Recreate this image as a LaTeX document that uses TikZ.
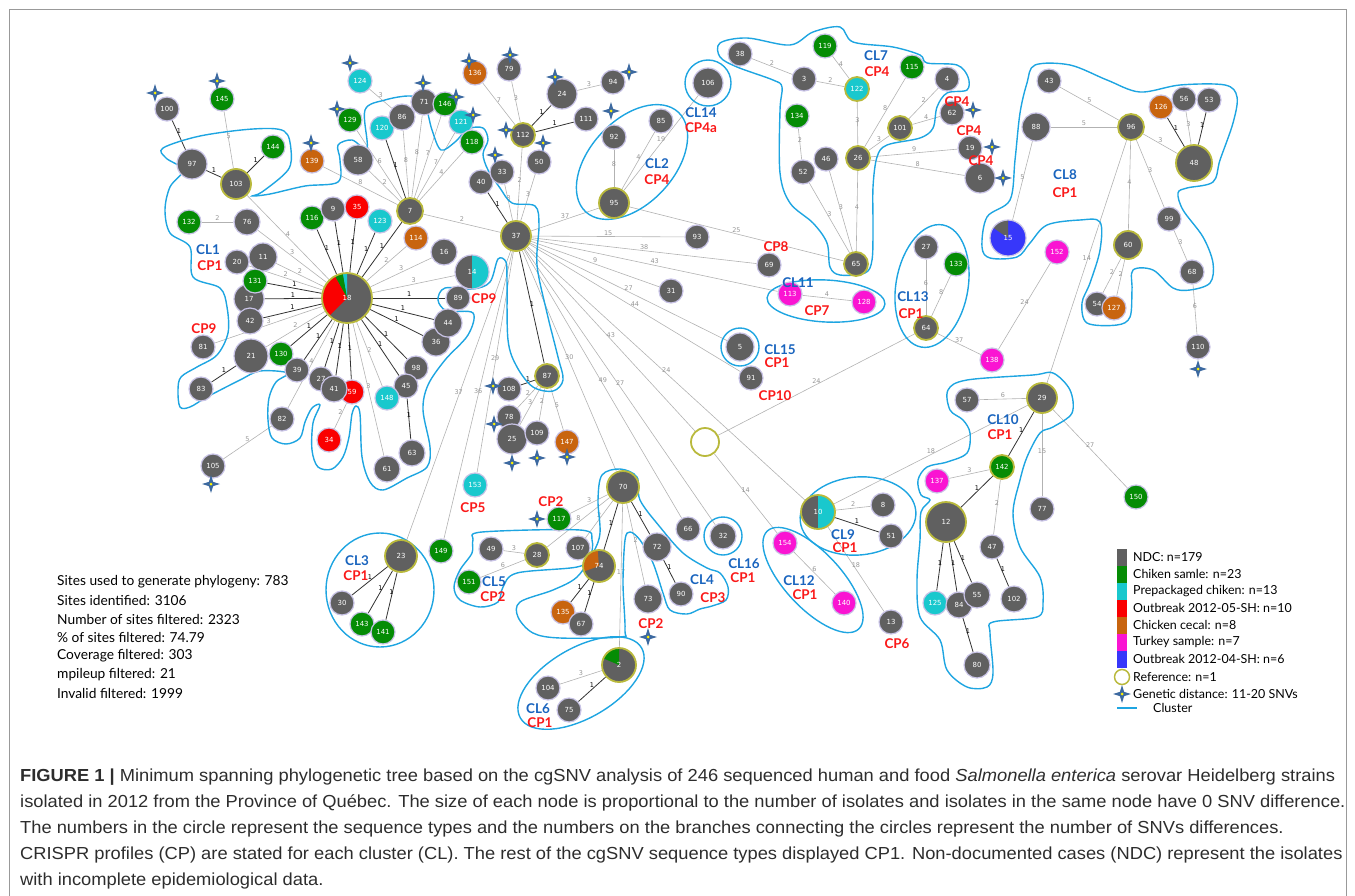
\documentclass[tikz,border=0pt]{standalone}
\usepackage{fontspec}
\setmainfont{Lato}
\newfontfamily\numfont{DejaVu Sans}
\newfontfamily\capfont[FakeStretch=1.05]{Liberation Sans}
\usetikzlibrary{shapes.geometric}
\pgfdeclarelayer{bg}
\pgfsetlayers{bg,main}
\definecolor{ndc}{RGB}{96,96,96}
\definecolor{grc}{RGB}{5,140,5}
\definecolor{cyc}{RGB}{25,200,205}
\definecolor{rdc}{RGB}{250,0,0}
\definecolor{ogc}{RGB}{200,100,15}
\definecolor{mgc}{RGB}{250,20,210}
\definecolor{blc}{RGB}{55,55,250}
\definecolor{refc}{RGB}{185,185,60}
\definecolor{haloc}{RGB}{200,195,230}
\definecolor{cluc}{RGB}{30,165,225}
\definecolor{clc}{RGB}{25,100,190}
\definecolor{cpc}{RGB}{250,25,25}
\definecolor{edgec}{RGB}{178,178,178}
\definecolor{lblc}{RGB}{150,150,150}
\definecolor{stc}{RGB}{60,105,160}
\definecolor{capc}{RGB}{45,45,45}
\newcommand\pieslice[3]{\fill[#1] (path picture bounding box.center) -- ++(#2:40bp) arc[start angle=#2, end angle=#3, radius=40bp] -- cycle;}
\tikzset{
  nd/.style={circle, fill=ndc, draw=haloc, line width=1.2bp, inner sep=0pt, minimum size=24bp, text=white, font=\numfont\fontsize{7}{7}\selectfont},
  sz/.style={minimum size=#1bp},
  refnd/.style={draw=refc, line width=1.8bp},
  gr/.style={fill=grc}, cy/.style={fill=cyc}, rd/.style={fill=rdc}, og/.style={fill=ogc}, mg/.style={fill=mgc}, bl/.style={fill=blc},
  ed/.style={draw=edgec, line width=0.6bp, every node/.style={font=\numfont\fontsize{6.5}{6.5}\selectfont, text=lblc, inner sep=1bp, above}},
  ed1/.style={draw=black!80, line width=0.8bp, every node/.style={font=\numfont\fontsize{6.5}{6.5}\selectfont, text=black, inner sep=1bp, above}},
  clu/.style={draw=cluc, line width=1.4bp},
  cl/.style={font=\bfseries\fontsize{13.5}{13.5}\selectfont, text=clc, inner sep=0pt},
  cp/.style={font=\bfseries\fontsize{13.5}{13.5}\selectfont, text=cpc, inner sep=0pt},
  gstar/.style={star, star points=4, star point ratio=3, minimum size=18bp, inner sep=0pt, fill=stc, path picture={\fill[yellow] (path picture bounding box.center) circle (1.5bp);}},
  txt/.style={anchor=west, inner sep=0pt, font=\fontsize{12.5}{12.5}\selectfont},
}
\begin{document}
\begin{tikzpicture}[x=1bp, y=-1bp]
\useasboundingbox (0,0) rectangle (1355,895);
\draw[black!40, line width=0.8bp] (9,900) -- (9,9) -- (1346,9) -- (1346,900);
%% CL1 side
\node[nd] (n100) at (167,109) {100};
\node[nd,gr] (n145) at (222,99) {145};
\node[nd,sz=30] (n97) at (192,164) {97};
\node[nd,sz=30,refnd] (n103) at (236,184) {103};
\node[nd,gr] (n144) at (273,147) {144};
\node[nd,og] (n139) at (312,161) {139};
\node[nd,cy] (n124) at (360,81) {124};
\node[nd,gr] (n129) at (350,120) {129};
\node[nd,cy] (n120) at (382,128) {120};
\node[nd,sz=26] (n86) at (402,117) {86};
\node[nd,sz=26] (n71) at (424,102) {71};
\node[nd,gr] (n146) at (445,104) {146};
\node[nd,cy] (n121) at (461,122) {121};
\node[nd,gr] (n118) at (472,142) {118};
\node[nd,sz=30] (n58) at (358,160) {58};
\node[nd,sz=26,refnd] (n7) at (410,211) {7};
\node[nd,gr] (n116) at (312,218) {116};
\node[nd] (n9) at (333,209) {9};
\node[nd,rd] (n35) at (357,207) {35};
\node[nd,cy] (n123) at (380,221) {123};
\node[nd,og] (n114) at (416,238) {114};
\node[nd,sz=26] (n16) at (444,252) {16};
\node[nd,gr] (n132) at (189,222) {132};
\node[nd,sz=26] (n76) at (247,222) {76};
\node[nd] (n20) at (237,262) {20};
\node[nd,sz=28] (n11) at (263,257) {11};
\node[nd,sz=30] (n17) at (249,299) {17};
\node[nd,gr] (n131) at (255,281) {131};
\node[nd,sz=50,refnd,path picture={\pieslice{cyc}{90}{100}\pieslice{grc}{100}{119}\pieslice{rdc}{119}{225}}] (n18) at (347,298) {18};
\node[nd,sz=34,path picture={\pieslice{cyc}{-90}{90}}] (n14) at (472,272) {14};
\node[nd] (n89) at (458,298) {89};
\node[nd,sz=28] (n36) at (436,342) {36};
\node[nd,sz=28] (n44) at (448,323) {44};
\node[nd] (n98) at (416,368) {98};
\node[nd] (n45) at (406,386) {45};
\node[nd,cy] (n148) at (387,398) {148};
\node[nd,sz=26] (n63) at (412,453) {63};
\node[nd,sz=26] (n61) at (387,469) {61};
\node[nd] (n27) at (321,379) {27};
\node[nd,rd] (n59) at (352,392) {59};
\node[nd,sz=26] (n41) at (334,389) {41};
\node[nd,rd] (n34) at (329,440) {34};
\node[nd,gr] (n130) at (281,354) {130};
\node[nd] (n39) at (297,370) {39};
\node[nd,sz=34] (n21) at (251,356) {21};
\node[nd,sz=26] (n42) at (250,321) {42};
\node[nd] (n81) at (203,347) {81};
\node[nd] (n83) at (201,389) {83};
\node[nd] (n82) at (282,419) {82};
\node[nd] (n105) at (213,466) {105};
%% top centre
\node[nd,og] (n136) at (475,73) {136};
\node[nd] (n79) at (509,69) {79};
\node[nd,sz=30] (n24) at (562,94) {24};
\node[nd] (n94) at (613,82) {94};
\node[nd] (n111) at (586,119) {111};
\node[nd,refnd] (n112) at (523,135) {112};
\node[nd] (n50) at (539,162) {50};
\node[nd] (n40) at (481,182) {40};
\node[nd] (n33) at (502,172) {33};
\node[nd,sz=30,refnd] (n37) at (516,236) {37};
\node[nd] (n92) at (614,137) {92};
\node[nd] (n85) at (661,121) {85};
\node[nd,sz=30,refnd] (n95) at (614,203) {95};
\node[nd,sz=30] (n106) at (708,83) {106};
\node[nd] (n93) at (697,237) {93};
\node[nd] (n31) at (671,291) {31};
%% CL7
\node[nd] (n38) at (740,54) {38};
\node[nd,gr] (n119) at (825,46) {119};
\node[nd] (n3) at (804,79) {3};
\node[nd,cy,refnd] (n122) at (857,89) {122};
\node[nd,gr] (n115) at (912,67) {115};
\node[nd] (n4) at (947,79) {4};
\node[nd,gr] (n134) at (797,116) {134};
\node[nd,refnd] (n101) at (900,128) {101};
\node[nd] (n62) at (952,113) {62};
\node[nd] (n19) at (970,148) {19};
\node[nd,sz=30] (n6) at (980,178) {6};
\node[nd] (n46) at (826,159) {46};
\node[nd] (n52) at (803,172) {52};
\node[nd,refnd] (n26) at (858,158) {26};
\node[nd,refnd] (n65) at (856,264) {65};
\node[nd] (n69) at (769,265) {69};
\node[nd,mg] (n113) at (790,294) {113};
\node[nd,mg] (n128) at (864,302) {128};
\node[nd] (n27b) at (926,247) {27};
\node[nd,gr] (n133) at (956,264) {133};
\node[nd,refnd] (n64) at (926,328) {64};
%% CL8
\node[nd] (n43) at (1049,81) {43};
\node[nd,sz=28] (n88) at (1036,127) {88};
\node[nd,sz=26,refnd] (n96) at (1131,127) {96};
\node[nd,og] (n126) at (1161,107) {126};
\node[nd] (n56) at (1184,99) {56};
\node[nd] (n53) at (1209,100) {53};
\node[nd,sz=36,refnd] (n48) at (1194,163) {48};
\node[nd,sz=36,bl,path picture={\pieslice{ndc}{90}{145}}] (n15) at (1008,238) {15};
\node[nd,mg] (n152) at (1057,252) {152};
\node[nd,sz=28,refnd] (n60) at (1128,245) {60};
\node[nd] (n99) at (1169,219) {99};
\node[nd] (n68) at (1192,272) {68};
\node[nd] (n54) at (1097,304) {54};
\node[nd,og] (n127) at (1114,308) {127};
\node[nd] (n110) at (1198,347) {110};
\node[nd,mg] (n138) at (992,360) {138};
%% lower part
\node[nd,refnd] (n87) at (547,376) {87};
\node[nd] (n108) at (509,389) {108};
\node[nd] (n78) at (509,417) {78};
\node[nd,sz=30] (n25) at (512,439) {25};
\node[nd] (n109) at (537,433) {109};
\node[nd,og] (n147) at (567,442) {147};
\node[nd,cy] (n153) at (475,485) {153};
\node[nd,gr] (n149) at (441,551) {149};
\node[nd,sz=32,refnd] (n23) at (401,556) {23};
\node[nd] (n30) at (342,603) {30};
\node[nd,gr] (n143) at (362,624) {143};
\node[nd,gr] (n141) at (383,632) {141};
\node[nd,sz=32,refnd] (n70) at (623,487) {70};
\node[nd,gr] (n117) at (559,519) {117};
\node[nd] (n49) at (491,549) {49};
\node[nd,refnd] (n28) at (537,555) {28};
\node[nd] (n107) at (578,548) {107};
\node[nd,sz=32,refnd,path picture={\pieslice{ogc}{95}{200}}] (n74) at (599,566) {74};
\node[nd,gr] (n151) at (469,582) {151};
\node[nd,og] (n135) at (563,612) {135};
\node[nd] (n67) at (581,624) {67};
\node[nd,sz=28] (n72) at (657,547) {72};
\node[nd] (n66) at (688,529) {66};
\node[nd,sz=26] (n32) at (723,536) {32};
\node[nd,sz=28] (n73) at (648,599) {73};
\node[nd] (n90) at (681,594) {90};
\node[nd,sz=34,refnd,path picture={\pieslice{grc}{90}{157}}] (n2) at (619,665) {2};
\node[nd] (n104) at (548,688) {104};
\node[nd] (n75) at (569,710) {75};
\node[nd,sz=28,refnd,fill=white] (nref) at (705,442) {};
\node[nd,sz=28] (n5) at (740,347) {5};
\node[nd] (n91) at (751,378) {91};
%% CL10 side
\node[nd] (n57) at (967,400) {57};
\node[nd,sz=30,refnd] (n29) at (1042,398) {29};
\node[nd,gr,refnd] (n142) at (1002,467) {142};
\node[nd,mg] (n137) at (937,481) {137};
\node[nd,sz=40,refnd] (n12) at (946,522) {12};
\node[nd] (n77) at (1042,509) {77};
\node[nd] (n47) at (992,547) {47};
\node[nd,sz=34,refnd,path picture={\pieslice{cyc}{-90}{90}}] (n10) at (818,512) {10};
\node[nd] (n8) at (883,505) {8};
\node[nd] (n51) at (891,536) {51};
\node[nd,mg] (n154) at (785,543) {154};
\node[nd,mg] (n140) at (844,603) {140};
\node[nd] (n13) at (891,622) {13};
\node[nd,cy] (n125) at (935,603) {125};
\node[nd,sz=26] (n84) at (959,605) {84};
\node[nd,sz=26] (n55) at (977,595) {55};
\node[nd,sz=26] (n102) at (1014,599) {102};
\node[nd,sz=26] (n80) at (977,665) {80};
\node[nd,gr] (n150) at (1136,497) {150};
%% genetic distance marks
\foreach \p [count=\i] in {(155,93),(217,81),(311,143),(350,63),(337,109),(423,83),(456,97),(473,115),(469,61),(510,55),(555,77),(629,72),(506,130),(543,143),(495,155),(611,111),(973,110),(992,147),(1003,178),(1198,369),(493,386),(494,424),(512,463),(537,458),(567,457),(537,519),(648,637),(211,484)}
  \node[gstar] (st\i) at \p {};
%
\begin{pgfonlayer}{bg}
\draw[ed] (n18) -- node{4} (n103);
\draw[ed] (n18) -- node{3} (n76);
\draw[ed] (n18) -- node{2} (n11);
\draw[ed] (n18) -- node{2} (n20);
\draw[ed1] (n18) -- node{1} (n131);
\draw[ed1] (n18) -- node{1} (n17);
\draw[ed1] (n18) -- node{1} (n42);
\draw[ed] (n18) -- node{3} (n81);
\draw[ed] (n18) -- node{2} (n21);
\draw[ed1] (n18) -- node{1} (n130);
\draw[ed1] (n18) -- node{1} (n39);
\draw[ed] (n18) -- node{4} (n82);
\draw[ed1] (n18) -- node{1} (n27);
\draw[ed1] (n18) -- node{1} (n41);
\draw[ed1] (n18) -- node{1} (n59);
\draw[ed] (n18) -- node{3} (n61);
\draw[ed] (n18) -- node{2} (n148);
\draw[ed1] (n18) -- node{1} (n45);
\draw[ed1] (n18) -- node{1} (n98);
\draw[ed1] (n18) -- node{1} (n36);
\draw[ed1] (n18) -- node{1} (n44);
\draw[ed1] (n18) -- node{1} (n89);
\draw[ed] (n18) -- node{3} (n14);
\draw[ed] (n18) -- node{3} (n16);
\draw[ed] (n18) -- node{2} (n114);
\draw[ed1] (n18) -- node{1} (n7);
\draw[ed1] (n18) -- node{1} (n123);
\draw[ed1] (n18) -- node{1} (n35);
\draw[ed1] (n18) -- node{1} (n9);
\draw[ed1] (n18) -- node{1} (n116);
\draw[ed1] (n21) -- node{1} (n83);
\draw[ed] (n82) -- node{5} (n105);
\draw[ed] (n59) -- node{2} (n34);
\draw[ed1] (n45) -- node{1} (n63);
\draw[ed1] (n103) -- node{1} (n97);
\draw[ed1] (n103) -- node{1} (n144);
\draw[ed] (n103) -- node{5} (n145);
\draw[ed1] (n97) -- node{1} (n100);
\draw[ed] (n76) -- node{2} (n132);
\draw[ed] (n7) -- node{2} (n58);
\draw[ed] (n7) -- node{8} (n139);
\draw[ed] (n7) -- node{6} (n129);
\draw[ed1] (n7) -- node{1} (n120);
\draw[ed] (n7) -- node{8} (n86);
\draw[ed] (n7) -- node{8} (n71);
\draw[ed] (n7) -- node{7} (n146);
\draw[ed] (n7) -- node{7} (n121);
\draw[ed] (n7) -- node{4} (n118);
\draw[ed] (n7) -- node{2} (n37);
\draw[ed] (n124) -- node{3} (n86);
\draw[ed1] (n37) -- node{1} (n40);
\draw[ed] (n37) -- node{3} (n33);
\draw[ed] (n37) -- node{2} (n112);
\draw[ed] (n37) -- node{3} (n50);
\draw[ed] (n112) -- node{7} (n136);
\draw[ed] (n112) -- node{3} (n79);
\draw[ed1] (n112) -- node{1} (n24);
\draw[ed1] (n112) -- node{1} (n111);
\draw[ed] (n24) -- node{3} (n94);
\draw[ed] (n37) -- node{37} (n95);
\draw[ed] (n95) -- node{8} (n92);
\draw[ed] (n95) -- node{4} (n85);
\draw[ed] (n95) -- node{19} (n106);
\draw[ed] (n95) -- node{25} (n65);
\draw[ed] (n37) -- node{15} (n93);
\draw[ed] (n37) -- node{38} (n69);
\draw[ed] (n37) -- node{43} (n113);
\draw[ed] (n37) -- node{9} (n31);
\draw[ed] (n37) -- node{27} (n5);
\draw[ed] (n37) -- node{44} (n91);
\draw[ed] (n37) -- node{43} (nref);
\draw[ed] (n37) -- node{24} (n10);
\draw[ed] (n37) -- node{27} (n32);
\draw[ed] (n37) -- node{49} (n66);
\draw[ed] (n37) -- node{30} (n70);
\draw[ed] (n37) -- node{29} (n153);
\draw[ed] (n37) -- node{36} (n149);
\draw[ed] (n37) -- node{37} (n23);
\draw[ed1] (n37) -- node{1} (n87);
\draw[ed1] (n87) -- node{1} (n108);
\draw[ed] (n87) -- node{2} (n78);
\draw[ed] (n87) -- node{3} (n25);
\draw[ed] (n87) -- node{2} (n109);
\draw[ed] (n87) -- node{5} (n147);
\draw[ed] (n70) -- node{3} (n117);
\draw[ed] (n70) -- node{8} (n28);
\draw[ed] (n70) -- node{2} (n107);
\draw[ed1] (n70) -- node{1} (n74);
\draw[ed1] (n70) -- node{1} (n72);
\draw[ed] (n70) -- node{2} (n73);
\draw[ed] (n70) -- node{17} (n2);
\draw[ed1] (n72) -- node{1} (n90);
\draw[ed1] (n74) -- node{1} (n135);
\draw[ed1] (n74) -- node{1} (n67);
\draw[ed] (n28) -- node{3} (n49);
\draw[ed] (n28) -- node{6} (n151);
\draw[ed] (n2) -- node{3} (n104);
\draw[ed1] (n2) -- node{1} (n75);
\draw[ed1] (n23) -- node{1} (n30);
\draw[ed1] (n23) -- node{1} (n143);
\draw[ed1] (n23) -- node{1} (n141);
\draw[ed] (nref) -- node{24} (n64);
\draw[ed] (nref) -- node{14} (n154);
\draw[ed] (n154) -- node{6} (n140);
\draw[ed] (n10) -- node{18} (n13);
\draw[ed] (n10) -- node{2} (n8);
\draw[ed1] (n10) -- node{1} (n51);
\draw[ed] (n10) -- node{18} (n29);
\draw[ed] (n64) -- node{6} (n27b);
\draw[ed] (n64) -- node{8} (n133);
\draw[ed] (n64) -- node{37} (n138);
\draw[ed] (n138) -- node{24} (n152);
\draw[ed] (n113) -- node{4} (n128);
\draw[ed] (n38) -- node{2} (n3);
\draw[ed] (n3) -- node{2} (n122);
\draw[ed] (n119) -- node{4} (n122);
\draw[ed] (n122) -- node{3} (n26);
\draw[ed] (n115) -- node{8} (n26);
\draw[ed] (n101) -- node{3} (n26);
\draw[ed] (n4) -- node{2} (n101);
\draw[ed] (n62) -- node{4} (n101);
\draw[ed] (n26) -- node{9} (n19);
\draw[ed] (n26) -- node{8} (n6);
\draw[ed] (n26) -- node{4} (n65);
\draw[ed] (n134) -- node{2} (n52);
\draw[ed] (n52) -- node{3} (n65);
\draw[ed] (n46) -- node{3} (n65);
\draw[ed] (n43) -- node{5} (n96);
\draw[ed] (n88) -- node{5} (n96);
\draw[ed] (n96) -- node{3} (n48);
\draw[ed1] (n126) -- node{1} (n48);
\draw[ed] (n56) -- node{3} (n48);
\draw[ed1] (n53) -- node{1} (n48);
\draw[ed] (n96) -- node{4} (n60);
\draw[ed] (n96) -- node{3} (n99);
\draw[ed] (n99) -- node{3} (n68);
\draw[ed] (n68) -- node{6} (n110);
\draw[ed] (n60) -- node{2} (n54);
\draw[ed] (n60) -- node{2} (n127);
\draw[ed] (n88) -- node{5} (n15);
\draw[ed] (n96) -- node{14} (n29);
\draw[ed] (n29) -- node{6} (n57);
\draw[ed1] (n29) -- node{1} (n142);
\draw[ed] (n29) -- node{15} (n77);
\draw[ed] (n29) -- node{27} (n150);
\draw[ed] (n142) -- node{3} (n137);
\draw[ed1] (n142) -- node{1} (n12);
\draw[ed] (n142) -- node{2} (n47);
\draw[ed1] (n47) -- node{1} (n102);
\draw[ed1] (n12) -- node{1} (n125);
\draw[ed1] (n12) -- node{1} (n84);
\draw[ed1] (n12) -- node{1} (n55);
\draw[ed1] (n84) -- node{1} (n80);
%% cluster outlines
\draw[clu] plot[smooth cycle, tension=0.55] coordinates {(163,148) (200,136) (253,129) (284,131) (291,150) (288,170) (262,192) (252,196) (270,194) (305,186) (338,182) (340,160) (338,145) (352,140) (367,148) (365,110) (385,100) (410,96) (424,102) (432,130) (441,150) (455,142) (468,129) (483,128) (488,140) (483,154) (488,170) (500,188) (512,203) (535,206) (539,225) (537,265) (547,313) (558,357) (563,380) (553,391) (533,387) (517,367) (508,340) (507,280) (506,262) (498,259) (490,282) (473,289) (445,288) (438,300) (447,311) (473,313) (468,335) (445,360) (428,385) (423,410) (430,447) (427,467) (407,478) (383,490) (370,482) (362,457) (360,414) (356,406) (352,414) (349,437) (343,457) (332,469) (318,467) (312,450) (313,423) (320,405) (312,408) (305,422) (300,438) (286,444) (272,438) (268,420) (269,398) (276,382) (288,373) (260,371) (240,380) (207,397) (190,407) (180,407) (178,390) (181,377) (197,367) (217,355) (228,333) (227,307) (220,288) (193,277) (190,247) (170,233) (165,210) (170,187) (183,170) (166,158)};
\draw[clu] plot[smooth cycle, tension=0.55] coordinates {(720,43) (747,38) (790,45) (813,32) (840,27) (853,42) (893,47) (920,55) (927,63) (957,65) (968,77) (967,90) (947,93) (937,107) (933,128) (920,138) (887,145) (877,157) (873,187) (873,227) (872,260) (865,273) (840,275) (830,267) (827,243) (813,223) (790,203) (780,173) (780,110) (782,87) (773,80) (737,67) (720,57)};
\draw[clu] plot[smooth cycle, tension=0.55] coordinates {(1035,65) (1070,65) (1107,80) (1140,92) (1180,85) (1225,85) (1237,97) (1233,123) (1220,160) (1213,182) (1187,188) (1178,193) (1183,210) (1203,237) (1213,263) (1210,283) (1190,290) (1173,288) (1153,270) (1133,270) (1132,290) (1130,317) (1117,325) (1087,323) (1082,303) (1090,283) (1100,250) (1100,222) (1080,220) (1047,225) (1030,243) (1017,257) (990,258) (982,247) (987,217) (1010,200) (1015,160) (1020,113) (1027,83)};
\draw[clu] plot[smooth cycle, tension=0.55] coordinates {(948,390) (967,380) (1033,375) (1053,373) (1070,390) (1072,413) (1053,427) (1040,433) (1027,457) (1020,480) (1013,513) (1020,547) (1040,577) (1043,603) (1037,617) (993,622) (990,633) (993,673) (987,687) (967,687) (947,670) (940,640) (920,617) (917,580) (920,540) (921,512) (930,500) (921,495) (918,480) (927,467) (947,462) (967,453) (970,433) (963,420) (950,410)};
\draw[clu] plot[smooth cycle, tension=0.55] coordinates {(602,475) (620,469) (637,477) (640,500) (660,527) (683,553) (707,568) (720,573) (728,587) (726,600) (712,606) (700,609) (687,614) (670,610) (663,593) (653,563) (640,540) (630,532) (625,540) (623,583) (625,630) (620,637) (560,638) (533,633) (518,617) (520,602) (553,590) (577,577) (593,553) (600,533) (598,500)};
\draw[clu] plot[smooth cycle, tension=0.55] coordinates {(482,532) (580,530) (592,540) (590,557) (577,567) (517,573) (503,587) (498,602) (480,607) (460,600) (454,587) (460,570) (472,553) (473,540)};
\draw[clu] (708,83) circle (23bp);
\draw[clu, rotate around={47:(632,162)}] (632,162) ellipse [x radius=68bp, y radius=42bp];
\draw[clu, rotate around={-3:(826,301)}] (826,301) ellipse [x radius=59bp, y radius=21bp];
\draw[clu, rotate around={-10:(932,286)}] (932,286) ellipse [x radius=36bp, y radius=62bp];
\draw[clu] (740,347) circle (19bp);
\draw[clu] (723,536) circle (19bp);
\draw[clu, rotate around={5:(858,516)}] (858,516) ellipse [x radius=58bp, y radius=39bp];
\draw[clu, rotate around={-47:(813,580)}] (813,580) ellipse [x radius=67bp, y radius=28bp];
\draw[clu] (380,590) ellipse [x radius=54bp, y radius=57bp];
\draw[clu, rotate around={30:(581,683)}] (581,683) ellipse [x radius=70bp, y radius=35bp];
\end{pgfonlayer}
%% cluster and CRISPR labels
\node[cl] (cl1) at (208,250) {CL1};
\node[cp] (cp1) at (210,266) {CP1};
\node[cp] (cp9a) at (204,329) {CP9};
\node[cp] (cp9b) at (484,299) {CP9};
\node[cl] (cl14) at (701,113) {CL14};
\node[cp] (cp4a) at (701,128) {CP4a};
\node[cl] (cl2) at (657,164) {CL2};
\node[cp] (cp4b) at (657,180) {CP4};
\node[cl] (cl7) at (876,56) {CL7};
\node[cp] (cp4c) at (877,72) {CP4};
\node[cp] (cp4d) at (957,102) {CP4};
\node[cp] (cp4e) at (969,131) {CP4};
\node[cp] (cp4f) at (981,161) {CP4};
\node[cl] (cl8) at (1065,175) {CL8};
\node[cp] (cp1b) at (1065,193) {CP1};
\node[cp] (cp8) at (776,247) {CP8};
\node[cl] (cl11) at (798,283) {CL11};
\node[cp] (cp7) at (817,311) {CP7};
\node[cl] (cl13) at (913,297) {CL13};
\node[cp] (cp1c) at (911,314) {CP1};
\node[cl] (cl15) at (780,350) {CL15};
\node[cp] (cp1d) at (777,363) {CP1};
\node[cp] (cp10) at (775,396) {CP10};
\node[cl] (cl10) at (1003,420) {CL10};
\node[cp] (cp1e) at (1000,435) {CP1};
\node[cl] (cl9) at (843,535) {CL9};
\node[cp] (cp1f) at (845,548) {CP1};
\node[cl] (cl12) at (799,581) {CL12};
\node[cp] (cp1g) at (805,595) {CP1};
\node[cl] (cl16) at (744,564) {CL16};
\node[cp] (cp1h) at (743,578) {CP1};
\node[cp] (cp6) at (897,644) {CP6};
\node[cl] (cl4) at (702,580) {CL4};
\node[cp] (cp3) at (713,598) {CP3};
\node[cp] (cp2a) at (651,624) {CP2};
\node[cl] (cl5) at (494,582) {CL5};
\node[cp] (cp2b) at (493,597) {CP2};
\node[cp] (cp2c) at (551,502) {CP2};
\node[cp] (cp5) at (473,508) {CP5};
\node[cl] (cl3) at (357,561) {CL3};
\node[cp] (cp1i) at (356,576) {CP1};
\node[cl] (cl6) at (538,709) {CL6};
\node[cp] (cp1j) at (540,723) {CP1};
%% legend
\foreach \c/\t [count=\i] in {ndc/NDC: n=179, grc/Chiken samle: n=23, cyc/Prepackaged chiken: n=13, rdc/Outbreak 2012-05-SH: n=10, ogc/Chicken cecal: n=8, mgc/Turkey sample: n=7, blc/Outbreak 2012-04-SH: n=6}
  {\node[fill=\c, minimum width=10bp, minimum height=17bp, inner sep=0pt] (lb\i) at (1122,540+17*\i) {};
   \node[txt] (lt\i) at (1133,540+17*\i) {\t};}
\node[circle, draw=refc, line width=1.5bp, minimum size=15bp, inner sep=0pt] (lref) at (1122,677) {};
\node[txt] (ltref) at (1133,677) {Reference: n=1};
\node[gstar] (lstar) at (1122,694) {};
\node[txt] (ltstar) at (1133,694) {Genetic distance: 11-20 SNVs};
\coordinate (lc1) at (1117,708);
\coordinate (lc2) at (1137,708);
\draw[clu] (lc1) -- (lc2);
\node[txt] (ltclu) at (1153,708) {Cluster};
%% sites
\foreach \t [count=\i] in {Sites used to generate phylogeny: 783, Sites identified: 3106, Number of sites filtered: 2323, \% of sites filtered: 74.79, Coverage filtered: 303, mpileup filtered: 21, Invalid filtered: 1999}
  \node[txt, font=\fontsize{13.8}{13.8}\selectfont] (site\i) at (57,563.5+18.5*\i) {\t};
%% caption
\begin{scope}[every node/.style={anchor=west, inner sep=0pt, text=capc, font=\capfont\fontsize{17.5}{17.5}\selectfont}]
\node (cap1) at (20,777) {\textbf{FIGURE 1 |} Minimum spanning phylogenetic tree based on the cgSNV analysis of 246 sequenced human and food \textit{Salmonella enterica} serovar Heidelberg strains};
\node (cap2) at (20,803) {isolated in 2012 from the Province of Québec. The size of each node is proportional to the number of isolates and isolates in the same node have 0 SNV difference.};
\node (cap3) at (20,829) {The numbers in the circle represent the sequence types and the numbers on the branches connecting the circles represent the number of SNVs differences.};
\node (cap4) at (20,855) {CRISPR profiles (CP) are stated for each cluster (CL). The rest of the cgSNV sequence types displayed CP1. Non-documented cases (NDC) represent the isolates};
\node (cap5) at (20,881) {with incomplete epidemiological data.};
\end{scope}
\end{tikzpicture}
\end{document}
